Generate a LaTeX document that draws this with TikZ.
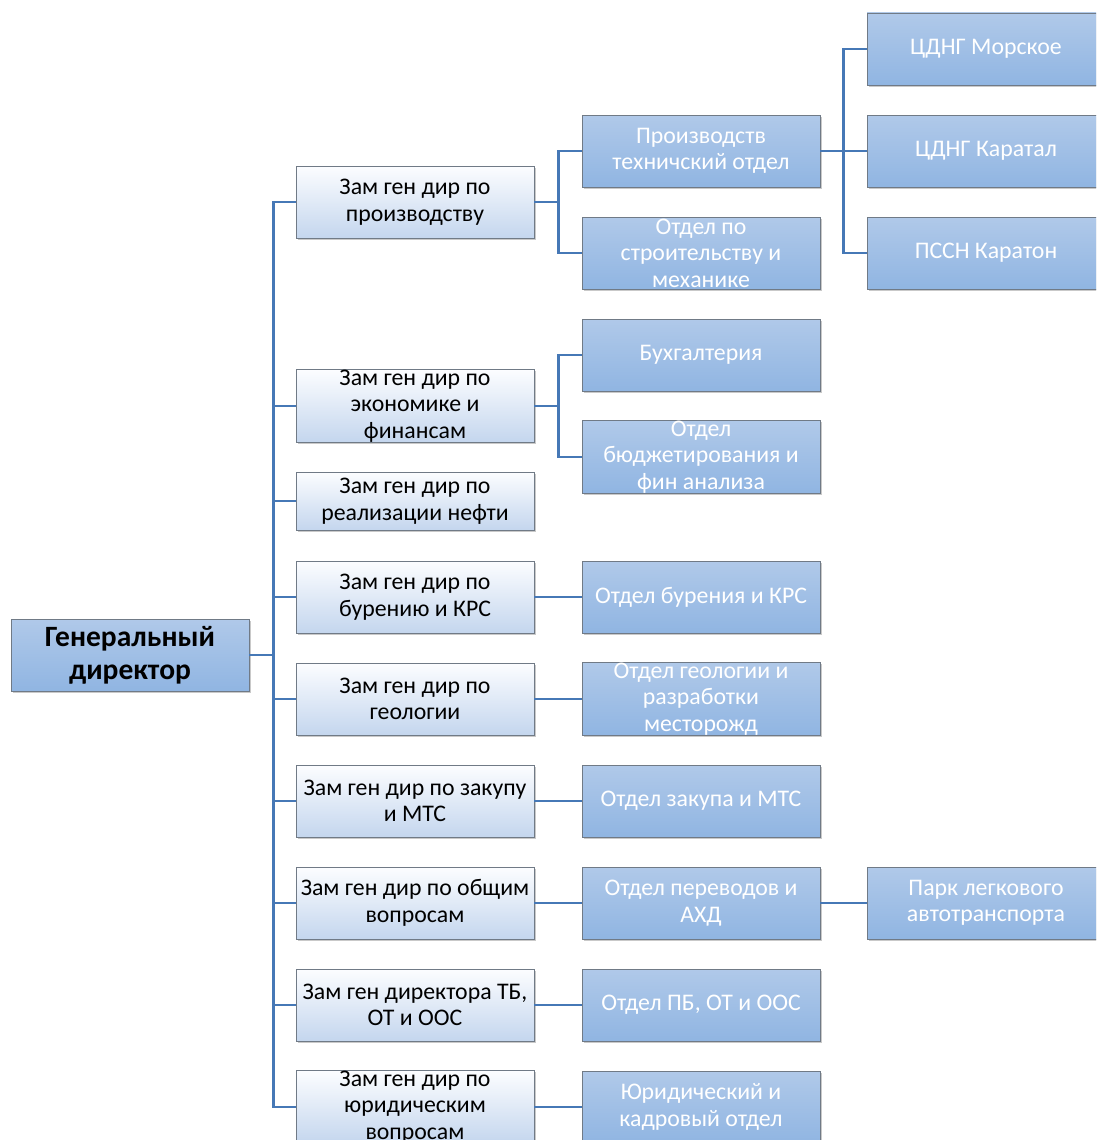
\documentclass[tikz,border=0pt]{standalone}
\usepackage{fontspec}
\setmainfont{Carlito}
\usetikzlibrary{shadows}
\definecolor{conncol}{RGB}{70,120,182}
\definecolor{boxline}{RGB}{112,122,134}
\definecolor{lighttop}{RGB}{252,253,255}
\definecolor{lightbot}{RGB}{196,214,238}
\definecolor{bluetop}{RGB}{176,201,233}
\definecolor{bluebot}{RGB}{144,181,226}
\tikzset{
  base/.style={draw=boxline, line width=0.8pt, minimum width=238pt, minimum height=72pt,
    inner sep=0pt, align=center, anchor=center,
    drop shadow={shadow xshift=1.5pt, shadow yshift=-1.5pt, opacity=0.35, fill=black!60}},
  zam/.style={base, top color=lighttop, bottom color=lightbot, text=black,
    font=\fontsize{23.8}{26.5}\selectfont},
  dept/.style={base, top color=bluetop, bottom color=bluebot, text=white,
    font=\fontsize{23.8}{26.5}\selectfont},
  chief/.style={base, top color=bluetop, bottom color=bluebot, text=black,
    font=\fontsize{29.5}{33}\selectfont\bfseries},
  conn/.style={draw=conncol, line width=2.4pt}
}
\begin{document}
\begin{tikzpicture}[x=1pt,y=-1pt]
\useasboundingbox (0,0) rectangle (1096,1140);
\clip (0,0) rectangle (1096,1140);
\fill[white] (0,0) rectangle (1096,1140);

% nodes
\node[chief] (gd) at (130,655) {Генеральный\\директор};

\node[zam] (z1) at (415,202) {Зам ген дир по\\производству};
\node[zam] (z2) at (415,406) {Зам ген дир по\\экономике и\\финансам};
\node[zam, minimum height=58pt] (z3) at (415,501) {Зам ген дир по\\реализации нефти};
\node[zam] (z4) at (415,597) {Зам ген дир по\\бурению и КРС};
\node[zam] (z5) at (415,699) {Зам ген дир по\\геологии};
\node[zam] (z6) at (415,801) {Зам ген дир по закупу\\и МТС};
\node[zam] (z7) at (415,903) {Зам ген дир по общим\\вопросам};
\node[zam] (z8) at (415,1005) {Зам ген директора ТБ,\\ОТ и ООС};
\node[zam] (z9) at (415,1107) {Зам ген дир по\\юридическим\\вопросам};

\node[dept] (d1) at (701,151) {Производств\\техничский отдел};
\node[dept] (d2) at (701,253) {Отдел по\\строительству и\\механике};
\node[dept] (d3) at (701,355) {Бухгалтерия};
\node[dept] (d4) at (701,457) {Отдел\\бюджетирования и\\фин анализа};
\node[dept] (d5) at (701,597) {Отдел бурения и КРС};
\node[dept] (d6) at (701,699) {Отдел геологии и\\разработки\\месторожд};
\node[dept] (d7) at (701,801) {Отдел закупа и МТС};
\node[dept] (d8) at (701,903) {Отдел переводов и\\АХД};
\node[dept] (d9) at (701,1005) {Отдел ПБ, ОТ и ООС};
\node[dept] (d10) at (701,1107) {Юридический и\\кадровый отдел};

\node[dept] (c1) at (986,49) {ЦДНГ Морское};
\node[dept] (c2) at (986,151) {ЦДНГ Каратал};
\node[dept] (c3) at (986,253) {ПССН Каратон};
\node[dept] (c4) at (986,903) {Парк легкового\\автотранспорта};

% connectors
\foreach \z in {z1,z2,z3,z4,z5,z6,z7,z8,z9}{
  \draw[conn] (gd.east) -- ++(24,0) |- (\z.west);
}
\draw[conn] (z1.east) -- ++(24,0) |- (d1.west);
\draw[conn] (z1.east) -- ++(24,0) |- (d2.west);
\draw[conn] (z2.east) -- ++(24,0) |- (d3.west);
\draw[conn] (z2.east) -- ++(24,0) |- (d4.west);
\draw[conn] (z4.east) -- (d5.west);
\draw[conn] (z5.east) -- (d6.west);
\draw[conn] (z6.east) -- (d7.west);
\draw[conn] (z7.east) -- (d8.west);
\draw[conn] (z8.east) -- (d9.west);
\draw[conn] (z9.east) -- (d10.west);
\draw[conn] (d1.east) -- ++(23,0) |- (c1.west);
\draw[conn] (d1.east) -- ++(23,0) |- (c2.west);
\draw[conn] (d1.east) -- ++(23,0) |- (c3.west);
\draw[conn] (d8.east) -- (c4.west);
\end{tikzpicture}
\end{document}
